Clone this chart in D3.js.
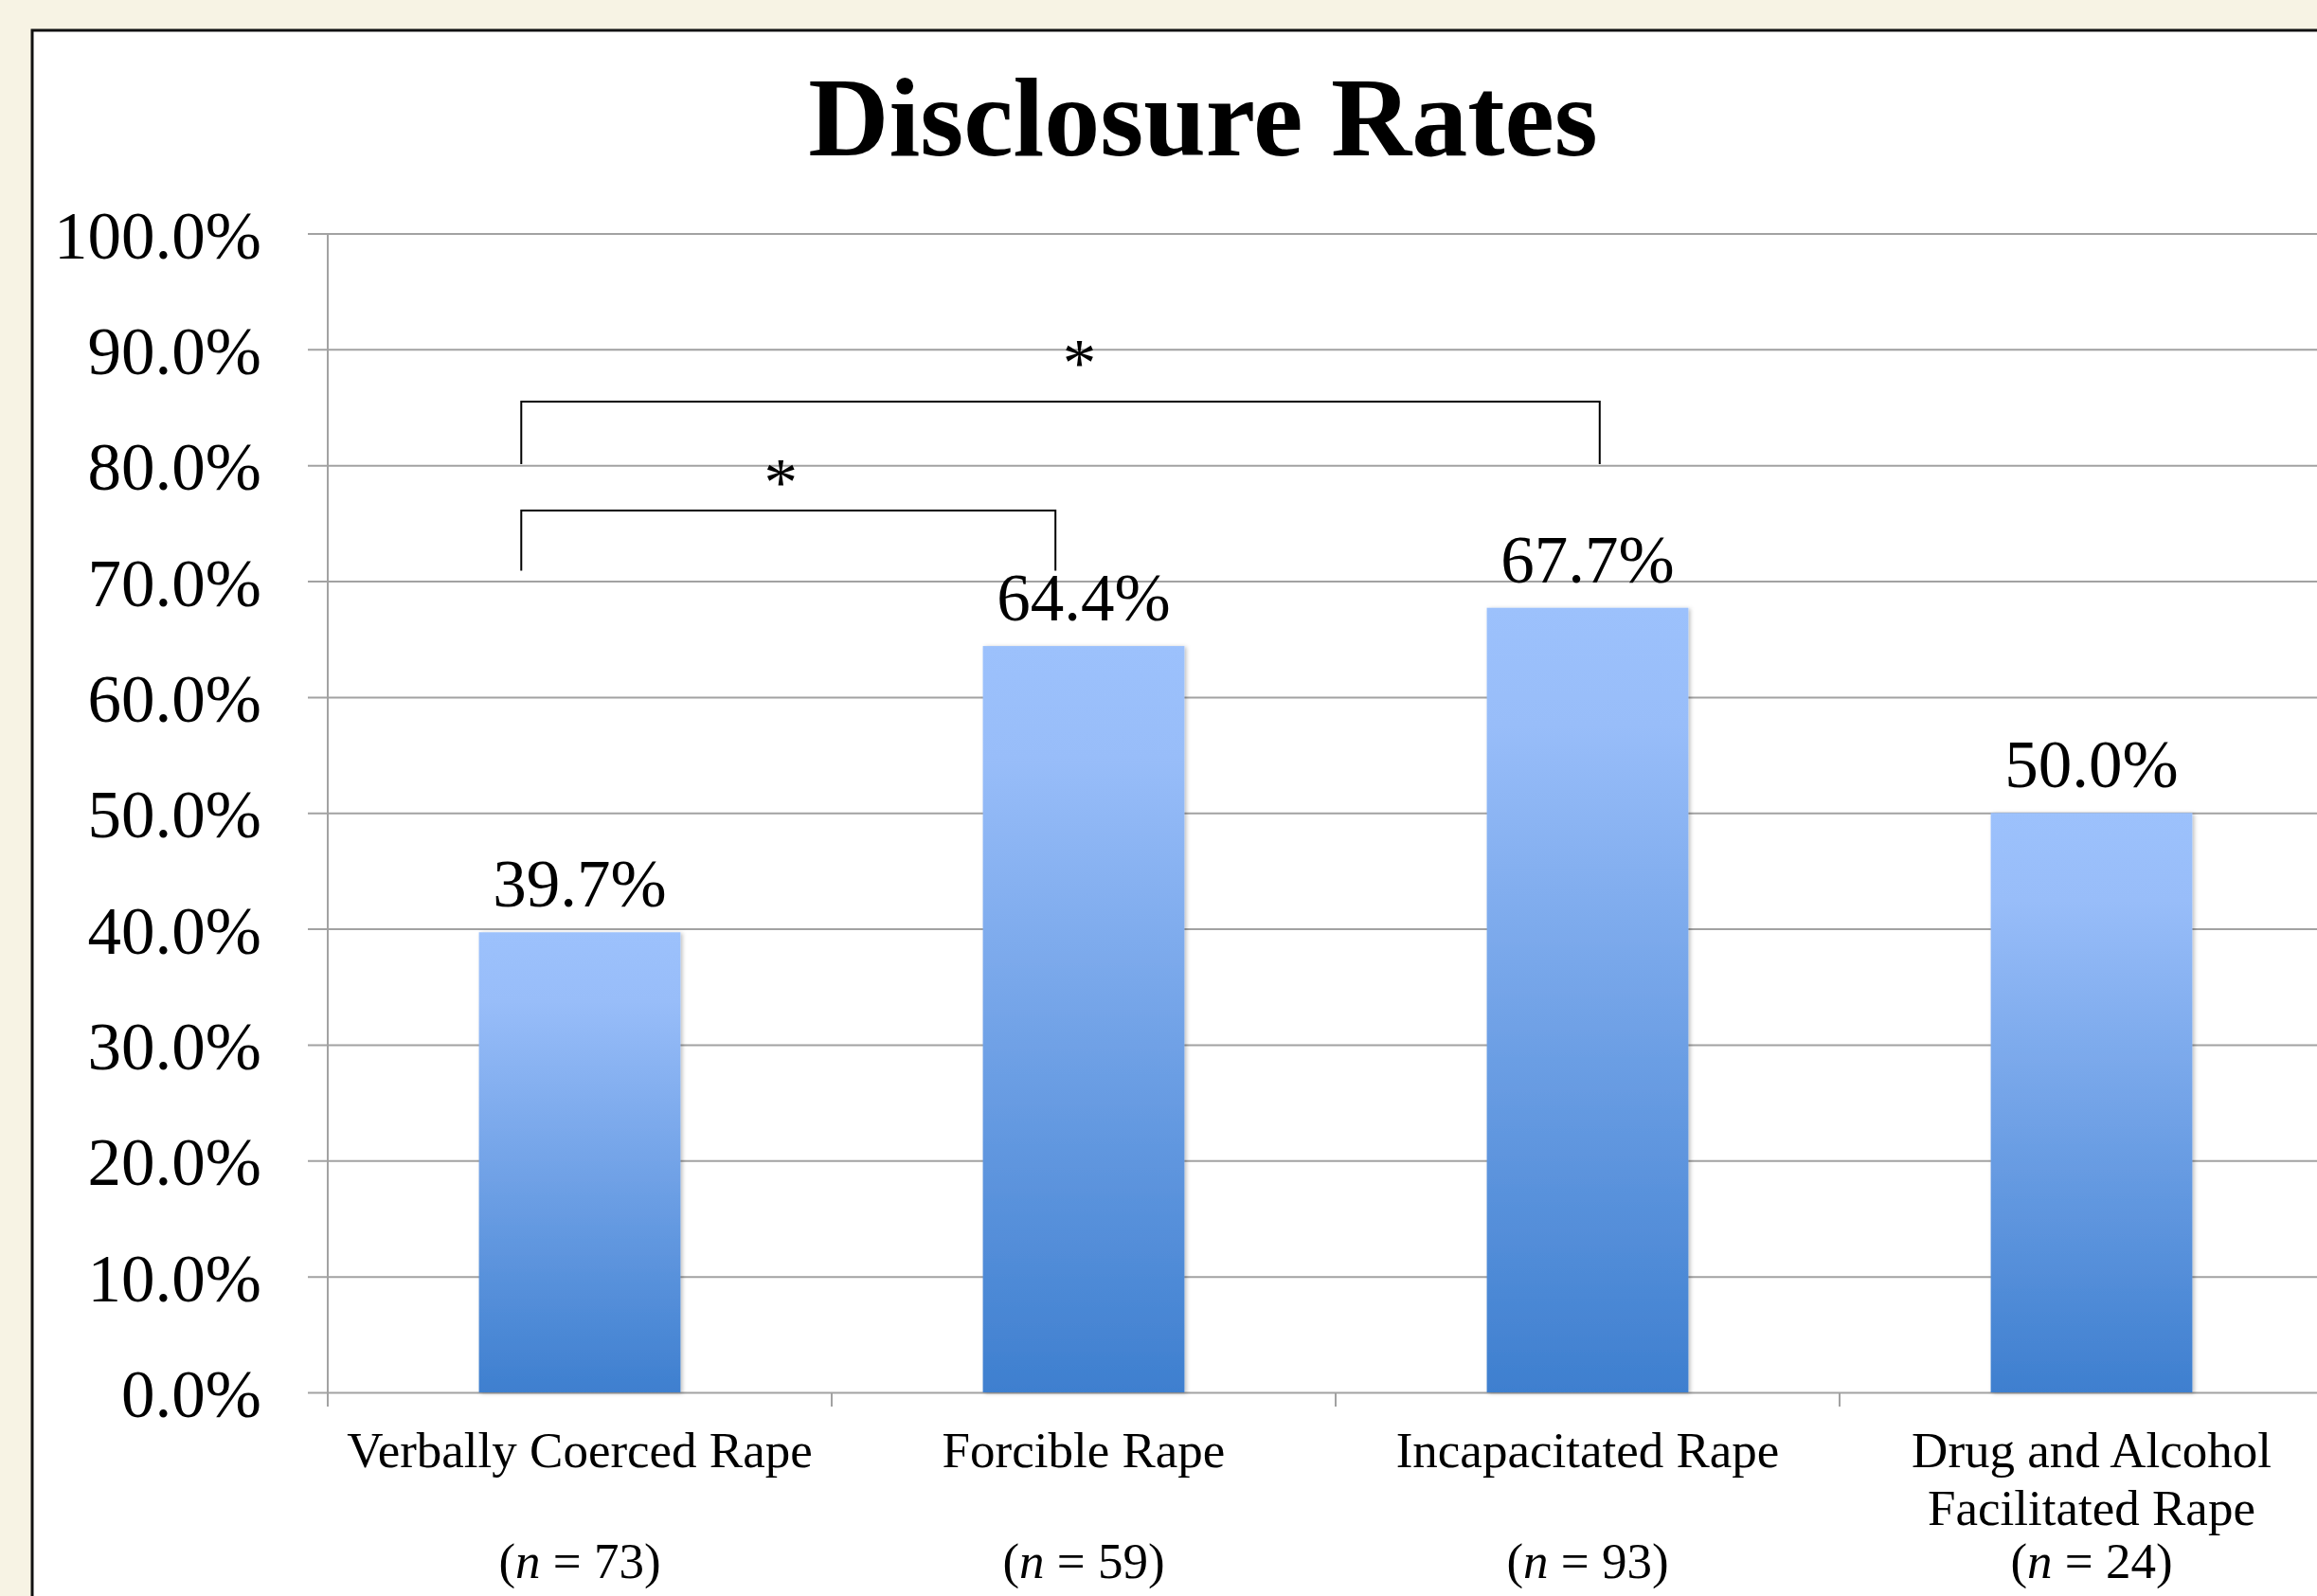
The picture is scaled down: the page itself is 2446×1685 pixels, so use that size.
<!DOCTYPE html>
<html>
<head>
<meta charset="utf-8">
<script src="https://cdn.jsdelivr.net/npm/d3@7"></script>
<style>
  body { margin: 0; background: #f7f3e4; }
  svg { display: block; }
  text { font-family: "Liberation Serif", "Times New Roman", serif; fill: #000; }
</style>
</head>
<body>
<script>
// data
const categories = ['Verbally Coerced Rape', 'Forcible Rape', 'Incapacitated Rape', 'Drug and Alcohol Facilitated Rape'];
const labelLines = [['Verbally Coerced Rape'], ['Forcible Rape'], ['Incapacitated Rape'], ['Drug and Alcohol', 'Facilitated Rape']];
const rates = [0.397, 0.644, 0.677, 0.500];
const sampleSizes = [73, 59, 93, 24];
const yTicks = [0, 0.1, 0.2, 0.3, 0.4, 0.5, 0.6, 0.7, 0.8, 0.9, 1.0];
// significant pairwise differences
const sigPairs = [
    ['Verbally Coerced Rape', 'Forcible Rape'],
    ['Verbally Coerced Rape', 'Incapacitated Rape']
];

const w = 2446, h = 1685;
const plotLeft = 346, plotTop = 246.5, plotBottom = 1470;
const step = 532;

const svg = d3.select('body').append('svg')
    .attr('width', w)
    .attr('height', h);

// gradient + shadow for bars
const defs = svg.append('defs');
const grad = defs.append('linearGradient')
    .attr('id', 'barGrad')
    .attr('x1', 0).attr('y1', 0).attr('x2', 0).attr('y2', 1);
grad.append('stop').attr('offset', '0%').attr('stop-color', '#9cc1fc');
grad.append('stop').attr('offset', '15%').attr('stop-color', '#98bdf9');
grad.append('stop').attr('offset', '100%').attr('stop-color', '#3e7fcf');
const shadow = defs.append('filter').attr('id', 'shadow')
    .attr('x', '-10%').attr('y', '-5%').attr('width', '130%').attr('height', '110%');
shadow.append('feDropShadow')
    .attr('dx', 2).attr('dy', 1).attr('stdDeviation', 2)
    .attr('flood-color', '#000').attr('flood-opacity', 0.25);

// white frame
svg.append('rect')
    .attr('x', 34).attr('y', 32)
    .attr('width', w).attr('height', h)
    .attr('fill', '#fff')
    .attr('stroke', '#111')
    .attr('stroke-width', 3);

// title
svg.append('text')
    .attr('x', 1270).attr('y', 164)
    .attr('text-anchor', 'middle')
    .attr('font-weight', 'bold')
    .attr('font-size', 118)
    .text('Disclosure Rates');

// scales
let x = d3.scaleBand()
    .domain(categories)
    .range([plotLeft, plotLeft + step * categories.length])
    .paddingInner(0.6)
    .paddingOuter(0.3);

let y = d3.scaleLinear()
    .domain([0, 1])
    .range([plotBottom, plotTop]);

// gridlines + y labels
const yAxis = svg.append('g')
    .attr('transform', `translate(${plotLeft - 21},0)`)
    .call(d3.axisLeft(y)
        .tickValues(yTicks)
        .tickFormat(d3.format('.1%'))
        .tickSize(-(w - plotLeft + 40))
        .tickPadding(49));
yAxis.select('.domain').remove();
yAxis.selectAll('line').attr('stroke', '#a2a2a2').attr('stroke-width', 2);
yAxis.selectAll('text')
    .attr('font-size', 71)
    .attr('font-family', '"Liberation Serif", serif')
    .attr('dy', '0.36em');

// y axis line
svg.append('line')
    .attr('x1', plotLeft).attr('x2', plotLeft)
    .attr('y1', plotTop).attr('y2', plotBottom + 15)
    .attr('stroke', '#a2a2a2').attr('stroke-width', 2);

// category tick marks at band edges
svg.selectAll('.cat-tick')
    .data(d3.range(categories.length + 1))
    .enter()
    .append('line')
    .attr('class', 'cat-tick')
    .attr('x1', i => plotLeft + i * x.step())
    .attr('x2', i => plotLeft + i * x.step())
    .attr('y1', plotBottom)
    .attr('y2', plotBottom + 15)
    .attr('stroke', '#a2a2a2').attr('stroke-width', 2);

// bars
svg.selectAll('.bar')
    .data(categories)
    .enter()
    .append('rect')
    .attr('class', 'bar')
    .attr('x', d => x(d))
    .attr('y', (d, i) => y(rates[i]))
    .attr('width', x.bandwidth())
    .attr('height', (d, i) => y(0) - y(rates[i]))
    .attr('fill', 'url(#barGrad)')
    .attr('filter', 'url(#shadow)');

// value labels
svg.selectAll('.val')
    .data(categories)
    .enter()
    .append('text')
    .attr('class', 'val')
    .attr('x', d => x(d) + x.bandwidth() / 2)
    .attr('y', (d, i) => y(rates[i]) - 27)
    .attr('text-anchor', 'middle')
    .attr('font-size', 71)
    .text((d, i) => d3.format('.1%')(rates[i]));

// category labels
categories.forEach((c, i) => {
    let cx = x(c) + x.bandwidth() / 2;
    labelLines[i].forEach((line, j) => {
        svg.append('text')
            .attr('x', cx)
            .attr('y', 1549 + j * 61)
            .attr('text-anchor', 'middle')
            .attr('font-size', 53)
            .text(line);
    });
    let t = svg.append('text')
        .attr('x', cx)
        .attr('y', 1666)
        .attr('text-anchor', 'middle')
        .attr('font-size', 53);
    t.append('tspan').text('(');
    t.append('tspan').attr('font-style', 'italic').text('n');
    t.append('tspan').text(' = ' + sampleSizes[i] + ')');
});

// significance brackets (legs in band fractions, heights in chart units)
const legOff = [[0.21, 0.36], [0.21, 0.56]];
const legY = [[0.761, 0.709], [0.855, 0.801]];
const starShift = [-8, 20];
sigPairs.forEach((p, i) => {
    let x1 = x(p[0]) + x.bandwidth() * legOff[i][0];
    let x2 = x(p[1]) + x.bandwidth() * legOff[i][1];
    let top = y(legY[i][0]), bot = y(legY[i][1]);
    svg.append('path')
        .attr('d', `M${x1},${bot}V${top}H${x2}V${bot}`)
        .attr('fill', 'none')
        .attr('stroke', '#000')
        .attr('stroke-width', 2);
    svg.append('text')
        .attr('x', (x1 + x2) / 2 + starShift[i])
        .attr('y', top - 6 - (i ? 11 : 0))
        .attr('text-anchor', 'middle')
        .attr('font-size', 71)
        .text('*');
});
</script>
</body>
</html>
